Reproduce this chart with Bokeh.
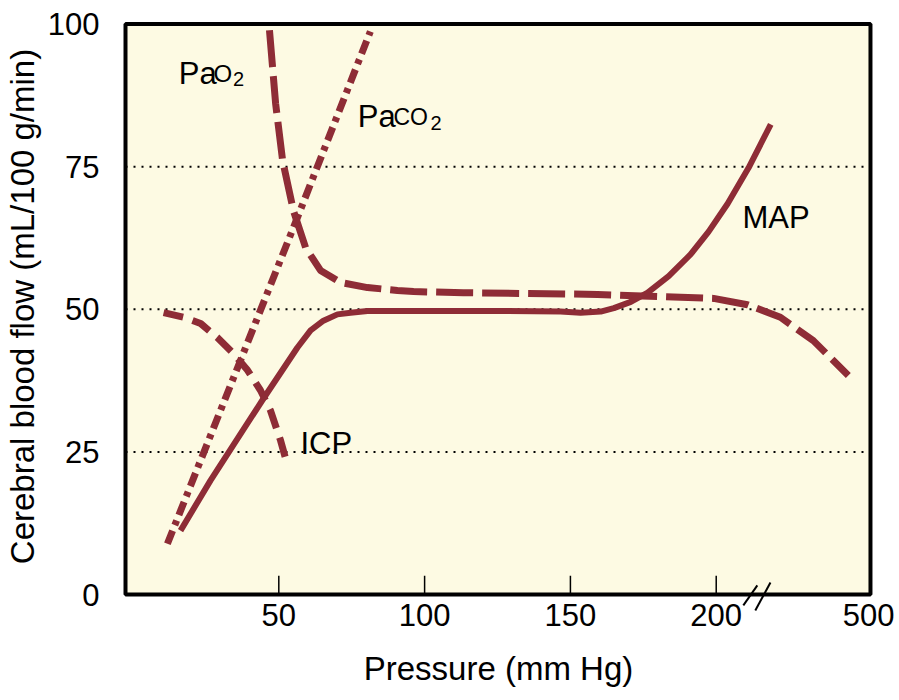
from bokeh.plotting import figure
from bokeh.models import Range1d, FixedTicker, Label
from bokeh.embed import file_html
from bokeh.resources import INLINE

# ---- data ----
map_x = [16.3, 26.6, 44.8, 56.4, 60.9, 65.3, 70.1, 74.6, 80.4, 91.7, 126.0, 146.6, 153.5, 160.4, 164.9, 170.7, 176.5, 183.7, 191.2, 197.4, 203.9, 211.1, 218.7]
map_y = [11.2, 20.0, 34.4, 43.3, 46.3, 48.0, 49.1, 49.4, 49.7, 49.7, 49.7, 49.6, 49.4, 49.6, 50.2, 51.3, 52.9, 55.8, 59.6, 63.6, 68.5, 74.8, 82.4]

pao2_x = [46.8, 48.9, 51.3, 55.0, 59.2, 64.3, 71.2, 80.4, 90.7, 96.2, 113.3, 159.3, 187.8, 199.1, 210.7, 222.0, 233.3, 245.3]
pao2_y = [98.9, 86.1, 76.1, 67.3, 60.8, 56.8, 54.7, 53.8, 53.3, 53.1, 52.9, 52.6, 52.1, 51.9, 50.8, 48.6, 44.5, 38.4]

paco2_x = [11.8, 56.4, 81.4]
paco2_y = [8.9, 66.1, 98.7]

icp_x = [10.5, 17.3, 23.2, 29.0, 34.5, 39.3, 43.7, 47.1, 50.6, 53.0]
icp_y = [49.4, 48.6, 47.5, 45.0, 42.2, 39.3, 35.8, 32.3, 27.0, 22.6]

# axes
x_left, x_right = -2.57, 252.9          # plotted box
y_bottom, y_top = 0, 100
x_ticks = [50, 100, 150, 200]
x_label_ticks = [50, 100, 150, 200, 252.3]
x_label_text = ["50", "100", "150", "200", "500"]
y_ticks = [0, 25, 50, 75, 100]
grid_levels = [25, 50, 75]
break_x0 = [209.3, 213.4]
break_y0 = [-1.9, -2.8]
break_x1 = [214.1, 218.6]
break_y1 = [1.6, 2.1]

RED = "#8e2c36"
YELLOW = "#fdfae3"
FONT = "Liberation Sans"

p = figure(frame_width=752, frame_height=612,
           min_border_left=122, min_border_right=25, min_border_top=0, min_border_bottom=88,
           x_range=Range1d(-3.60, 254.28), y_range=Range1d(-3.155, 104.12),
           output_backend="svg", toolbar_location=None)

p.background_fill_color = "white"
p.border_fill_color = "white"
p.outline_line_color = None
p.grid.visible = False

# box (background + frame)
p.quad(left=[x_left], right=[x_right], bottom=[y_bottom], top=[y_top],
       fill_color=YELLOW, line_color="black", line_width=4)

# dotted grid lines
p.segment(x0=[x_left] * len(grid_levels), x1=[x_right] * len(grid_levels),
          y0=grid_levels, y1=grid_levels,
          line_color="black", line_width=2, line_dash="2 6")

# inward x tick marks (19 px)
p.segment(x0=x_ticks, x1=x_ticks, y0=[y_bottom] * len(x_ticks), y1=[3.3] * len(x_ticks),
          line_color="black", line_width=1.5)

# x axis
xa = p.xaxis[0]
xa.ticker = FixedTicker(ticks=x_label_ticks)
xa.major_label_overrides = {t: l for t, l in zip(x_label_ticks, x_label_text)}
xa.axis_line_color = None
xa.major_tick_in = 0
xa.major_tick_out = 0
xa.minor_tick_line_color = None
xa.major_tick_line_color = None
xa.major_label_text_font = FONT
xa.major_label_text_font_size = "31px"
xa.major_label_text_color = "black"
xa.major_label_standoff = -9
xa.axis_label = "Pressure (mm Hg)"
xa.axis_label_text_font = FONT
xa.axis_label_text_font_size = "33px"
xa.axis_label_text_font_style = "normal"
xa.axis_label_text_color = "black"
xa.axis_label_standoff = 21

# y axis
ya = p.yaxis[0]
ya.ticker = FixedTicker(ticks=y_ticks)
ya.axis_line_color = None
ya.major_tick_in = 0
ya.major_tick_out = 0
ya.major_tick_line_color = None
ya.minor_tick_line_color = None
ya.major_label_text_font = FONT
ya.major_label_text_font_size = "31px"
ya.major_label_text_color = "black"
ya.major_label_standoff = 23
ya.axis_label = "Cerebral blood flow (mL/100 g/min)"
ya.axis_label_text_font = FONT
ya.axis_label_text_font_size = "33px"
ya.axis_label_text_font_style = "normal"
ya.axis_label_text_color = "black"
ya.axis_label_standoff = 4

# curves
p.line(paco2_x, paco2_y, line_color=RED, line_width=7, line_dash="14 6 5 6")
p.line(icp_x, icp_y, line_color=RED, line_width=7, line_dash="20 10")
p.line(pao2_x, pao2_y, line_color=RED, line_width=7, line_dash="37 9")
p.line(map_x, map_y, line_color=RED, line_width=6, line_join="round")

# axis break marks
p.segment(x0=break_x0, y0=break_y0, x1=break_x1, y1=break_y1, line_color="black", line_width=2)


def lab(x, y, t, size):
    p.add_layout(Label(x=x, y=y, text=t, text_font=FONT, text_font_size=size,
                       text_color="black", text_align="left", text_baseline="alphabetic"))


# PaO2
lab(15.7, 91.4, "Pa", "31px")
lab(27.6, 91.4, "O", "24px")
lab(34.3, 90.3, "2", "20px")
# PaCO2
lab(77.1, 83.7, "Pa", "31px")
lab(89.3, 83.7, "CO", "23px")
lab(102.0, 82.6, "2", "20px")
# ICP / MAP
lab(57.4, 26.5, "ICP", "31px")
lab(209.0, 66.1, "MAP", "31px")

open("out.html", "w").write(file_html(p, INLINE))
